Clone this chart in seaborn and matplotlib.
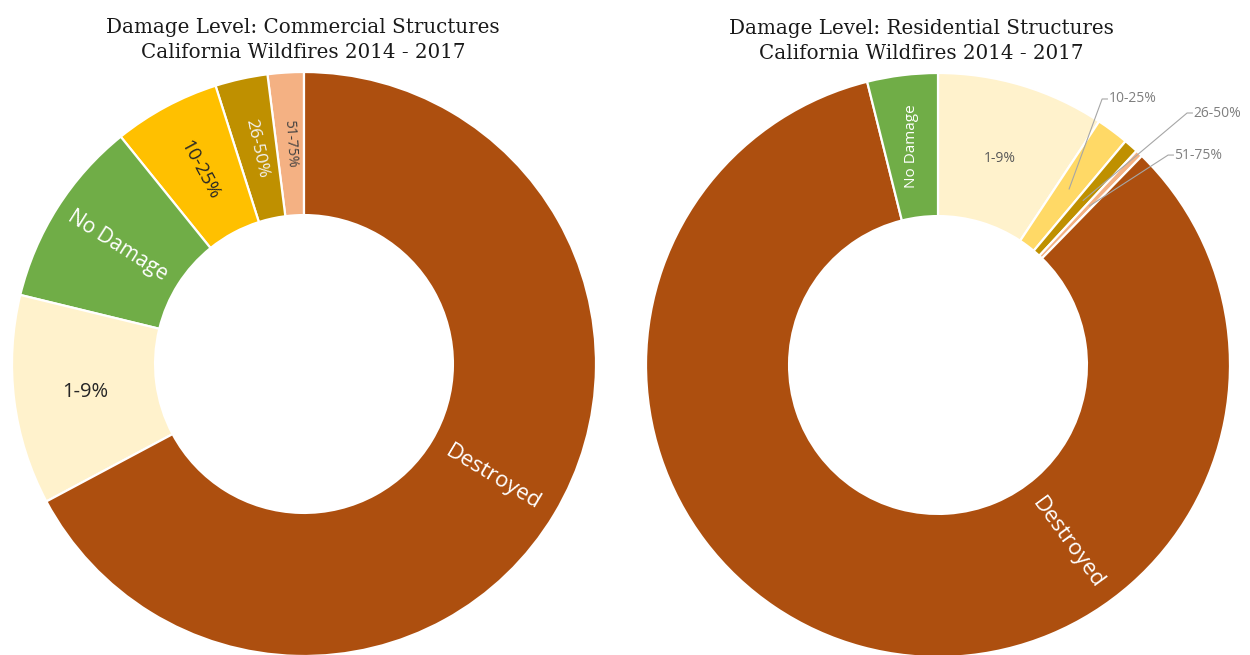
import numpy as np
import matplotlib
matplotlib.use("Agg")
import matplotlib.pyplot as plt
import seaborn as sns

# ---- data (share of structures, %) ----
categories = ["No Damage", "1-9%", "10-25%", "26-50%", "51-75%", "Destroyed"]
commercial = [10.4, 11.6, 5.9, 2.9, 2.0, 67.2]
residential = [3.9, 9.3, 1.8, 0.8, 0.4, 83.8]

title_left = "Damage Level: Commercial Structures\nCalifornia Wildfires 2014 - 2017"
title_right = "Damage Level: Residential Structures\nCalifornia Wildfires 2014 - 2017"

# ---- style ----
sns.set_theme(style="white")
plt.rcParams["font.family"] = ["Open Sans", "DejaVu Sans"]

colors_left = {"No Damage": "#70AD47", "1-9%": "#FFF2CC", "10-25%": "#FFC000",
               "26-50%": "#BF9000", "51-75%": "#F4B183", "Destroyed": "#AD4F0F"}
colors_right = dict(colors_left, **{"10-25%": "#FFD966"})

W, H = 1250, 655
fig = plt.figure(figsize=(W / 100, H / 100), dpi=100)
R = 292


def donut_axes(cx, cy):
    ax = fig.add_axes([(cx - R) / W, (H - cy - R) / H, 2 * R / W, 2 * R / H])
    return ax


def draw(ax, cats, vals, cols, counterclock):
    wedges, _ = ax.pie(vals, colors=[cols[c] for c in cats], startangle=90,
                       counterclock=counterclock, radius=1,
                       wedgeprops=dict(width=0.49, edgecolor="white", linewidth=1.6))
    ax.set_xlim(-1, 1)
    ax.set_ylim(-1, 1)
    ax.set_aspect("equal")
    ax.axis("off")
    mids = {}
    for c, w in zip(cats, wedges):
        mids[c] = np.deg2rad((w.theta1 + w.theta2) / 2)
    return mids


# ---- left: commercial ----
ax1 = donut_axes(304, 364)
order_left = ["51-75%", "26-50%", "10-25%", "No Damage", "1-9%", "Destroyed"]
vals_left = [commercial[categories.index(c)] for c in order_left]
mids = draw(ax1, order_left, vals_left, colors_left, counterclock=True)

lab_left = {  # category: (text colour, font size)
    "Destroyed": ("white", 16),
    "1-9%": ("#262626", 14.5),
    "No Damage": ("white", 15),
    "10-25%": ("#262626", 13.5),
    "26-50%": ("#F2F2F2", 12.5),
    "51-75%": ("#404040", 10),
}
rm = 0.755
for c, (tc, fs) in lab_left.items():
    t = mids[c]
    rot = np.rad2deg(t) % 360
    if 90 < rot < 270:
        rot -= 180
    if c == "1-9%":
        rot = 0
    ax1.text(rm * np.cos(t), rm * np.sin(t), c, rotation=rot, rotation_mode="anchor",
             ha="center", va="center", color=tc, fontsize=fs)

fig.text(303 / W, 1 - 40 / H, title_left, ha="center", va="center",
         family="DejaVu Serif", fontsize=14.3, color="#1A1A1A", linespacing=1.4)

# ---- right: residential ----
ax2 = donut_axes(938, 365)
order_right = ["1-9%", "10-25%", "26-50%", "51-75%", "Destroyed", "No Damage"]
vals_right = [residential[categories.index(c)] for c in order_right]
mids = draw(ax2, order_right, vals_right, colors_right, counterclock=False)

# inside labels
t = mids["No Damage"]
ax2.text(rm * np.cos(t), rm * np.sin(t), "No Damage", rotation=90, ha="center",
         va="center", color="white", fontsize=11)
t = mids["1-9%"]
ax2.text(0.74 * np.cos(t), 0.74 * np.sin(t), "1-9%", ha="center", va="center",
         color="#595959", fontsize=10)
t = np.deg2rad(90 - 144)
ax2.text(rm * np.cos(t), rm * np.sin(t), "Destroyed", rotation=-54, rotation_mode="anchor",
         ha="center", va="center", color="white", fontsize=16)

# outside labels with leader lines
outside = {"10-25%": (0.562, 0.911), "26-50%": (0.853, 0.863), "51-75%": (0.788, 0.719)}
for c, (ex, ey) in outside.items():
    t = mids[c]
    sx, sy = 0.75 * np.cos(t), 0.75 * np.sin(t)
    ax2.plot([sx, ex, ex + 0.02], [sy, ey, ey], color="#A6A6A6", lw=0.8,
             solid_capstyle="butt", clip_on=False)
    ax2.text(ex + 0.022, ey, c, ha="left", va="center", color="#7F7F7F", fontsize=10,
             clip_on=False)

fig.text(921 / W, 1 - 41 / H, title_right, ha="center", va="center",
         family="DejaVu Serif", fontsize=14.3, color="#1A1A1A", linespacing=1.4)

fig.savefig("out.png", dpi=100)
